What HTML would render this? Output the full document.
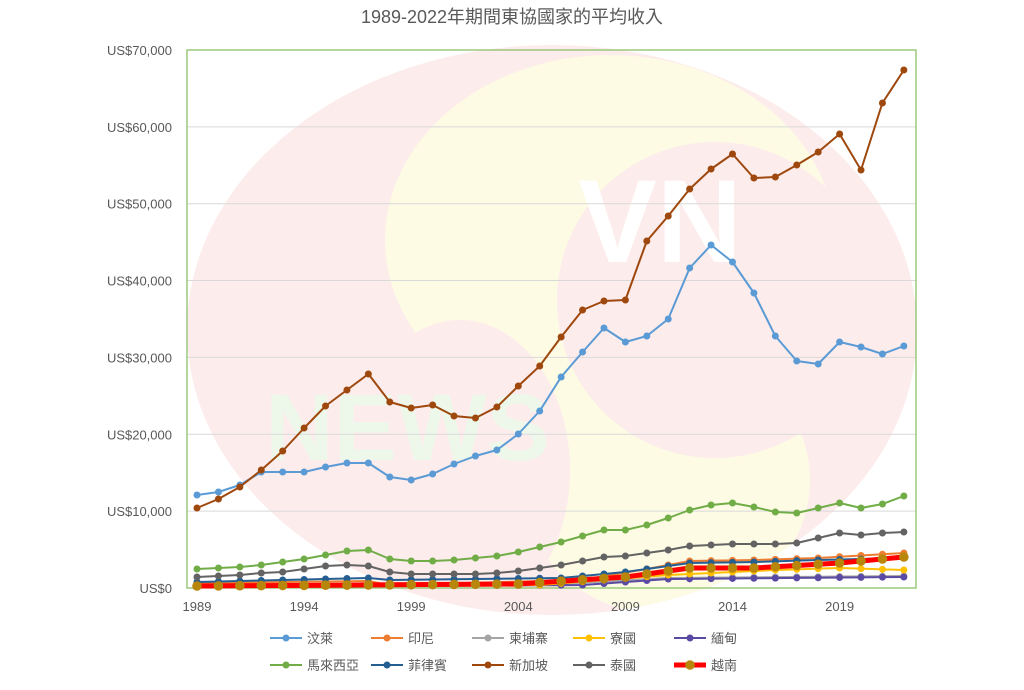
<!DOCTYPE html>
<html><head><meta charset="utf-8"><style>
body{margin:0;background:#fff;width:1024px;height:685px;overflow:hidden;font-family:"Liberation Sans","Noto Sans CJK TC",sans-serif}
</style></head><body>
<svg id="s" width="1024" height="685" xmlns="http://www.w3.org/2000/svg" font-family="Liberation Sans, Noto Sans CJK TC, sans-serif">
<rect width="1024" height="685" fill="#fff"/>
<clipPath id="cp"><ellipse cx="552" cy="330" rx="365" ry="285"/></clipPath>
<ellipse cx="552" cy="330" rx="365" ry="285" fill="#fdecec"/>
<g clip-path="url(#cp)">
<ellipse cx="610" cy="240" rx="225" ry="185" fill="#fdfbe4"/>
<ellipse cx="665" cy="480" rx="145" ry="135" fill="#fdfbe4"/>
<ellipse cx="460" cy="470" rx="110" ry="150" fill="#fdecec"/>
<circle cx="715" cy="300" r="158" fill="#fdecec"/>
</g>
<text x="578" y="262" font-size="118" fill="#ffffff" font-weight="bold">VN</text>
<text x="265" y="460" font-size="95" fill="#eef8ea" font-weight="bold">NEWS</text>
<text x="512" y="23" font-size="18" fill="#595959" text-anchor="middle">1989-2022年期間東協國家的平均收入</text>
<g id="grid"></g>
<rect x="187" y="50" width="729" height="538" fill="none" stroke="#8cc168" stroke-width="1.3"/>
<g id="series"></g>
<g id="legend" font-size="13" fill="#595959"></g>
</svg>
<script>
var NS="http://www.w3.org/2000/svg",s=document.getElementById('s');
function el(p,t,a,txt){var e=document.createElementNS(NS,t);for(var k in a)e.setAttribute(k,a[k]);if(txt)e.textContent=txt;p.appendChild(e);return e;}
var g=document.getElementById('grid');
var labs=["US$0","US$10,000","US$20,000","US$30,000","US$40,000","US$50,000","US$60,000","US$70,000"];
for(var i=0;i<8;i++){var y=588-i*76.86;if(i>0&&i<7)el(g,'line',{x1:187,x2:916,y1:y,y2:y,stroke:'#d9d9d9'});
el(g,'text',{x:172,y:y+5,'font-size':13,fill:'#595959','text-anchor':'end'},labs[i]);}
var X=function(i){return 197+i*21.42;};
[1989,1994,1999,2004,2009,2014,2019].forEach(function(yr){el(g,'text',{x:X(yr-1989),y:611,'font-size':13,fill:'#595959','text-anchor':'middle'},''+yr);});
function lin(a,b,n){var r=[];for(var i=0;i<n;i++)r.push(a+(b-a)*i/(n-1));return r;}
function pw(pts){var r=[];for(var k=0;k<pts.length-1;k++){var seg=lin(pts[k][1],pts[k+1][1],pts[k+1][0]-pts[k][0]+1);if(k>0)seg.shift();r=r.concat(seg);}return r;}
var D={
bru:[495,492,485,472,472,472,467,463,463,477,480,474,464,456,450,434,411,377,352,328,342,336,319,268,245,262,293,336,361,364,342,347,354,346],
sgp:[508,499,487,470,451,428,406,390,374,402,408,405,416,418,407,386,366,337,310,301,300,241,216,189,169,154,178,177,165,152,134,170,103,70],
mys:[569,568,567,565,562,559,555,551,550,559,561,561,560,558,556,552,547,542,536,530,530,525,518,510,505,503,507,512,513,508,503,508,504,496],
tha:[577,576,575,573,572,569,566,565,566,572,574,574,574,574,573,571,568,565,561,557,556,553,550,546,545,544,544,544,543,538,533,535,533,532],
idn:pw([[0,583],[8,581],[9,585],[18,580],[21,569],[23,561],[26,560],[29,558],[33,553]]),
phl:pw([[0,582],[8,578],[9,580],[17,578],[20,572],[23,563],[26,562],[29,560],[33,558]]),
vnm:pw([[0,586],[15,584],[20,577],[23,568],[26,568],[30,563],[33,557]]),
lao:pw([[0,587],[16,585],[22,575],[27,570],[30,568],[33,570]]),
mmr:pw([[0,587],[18,585],[22,579],[33,577]]),
khm:pw([[0,587],[16,585],[22,578],[33,576]])};
var se=document.getElementById('series');
function draw(d,c,w,r,fc){var p=d.map(function(y,i){return X(i).toFixed(1)+','+y;}).join(' ');
el(se,'polyline',{points:p,fill:'none',stroke:c,'stroke-width':w,'stroke-linejoin':'round'});
d.forEach(function(y,i){el(se,'circle',{cx:X(i),cy:y,r:r,fill:fc||c});});}
draw(D.khm,'#a5a5a5',2,3.5);draw(D.mmr,'#5b4aa3',2,3.5);draw(D.lao,'#ffc000',2,3.5);
draw(D.idn,'#ed7d31',2,3.5);draw(D.phl,'#255e91',2,3.5);draw(D.tha,'#636363',2,3.5);
draw(D.mys,'#70ad47',2,3.5);draw(D.bru,'#5b9bd5',2,3.5);draw(D.sgp,'#9e480e',2,3.5);
draw(D.vnm,'#ff0000',5,4.8,'#b8860b');
var L=document.getElementById('legend');
var items=[["汶萊",'#5b9bd5'],["印尼",'#ed7d31'],["柬埔寨",'#a5a5a5'],["寮國",'#ffc000'],["緬甸",'#5b4aa3'],
["馬來西亞",'#70ad47'],["菲律賓",'#255e91'],["新加坡",'#9e480e'],["泰國",'#636363'],["越南",'#ff0000']];
items.forEach(function(it,i){var col=i%5,row=Math.floor(i/5);var x=270+col*101,y=638+row*27;
var v=i==9;el(L,'line',{x1:x,x2:x+32,y1:y,y2:y,stroke:it[1],'stroke-width':v?5:2});
el(L,'circle',{cx:x+16,cy:y,r:v?4.8:3.5,fill:v?'#b8860b':it[1]});
el(L,'text',{x:x+37,y:y+5},it[0]);});
</script>
</body></html>
